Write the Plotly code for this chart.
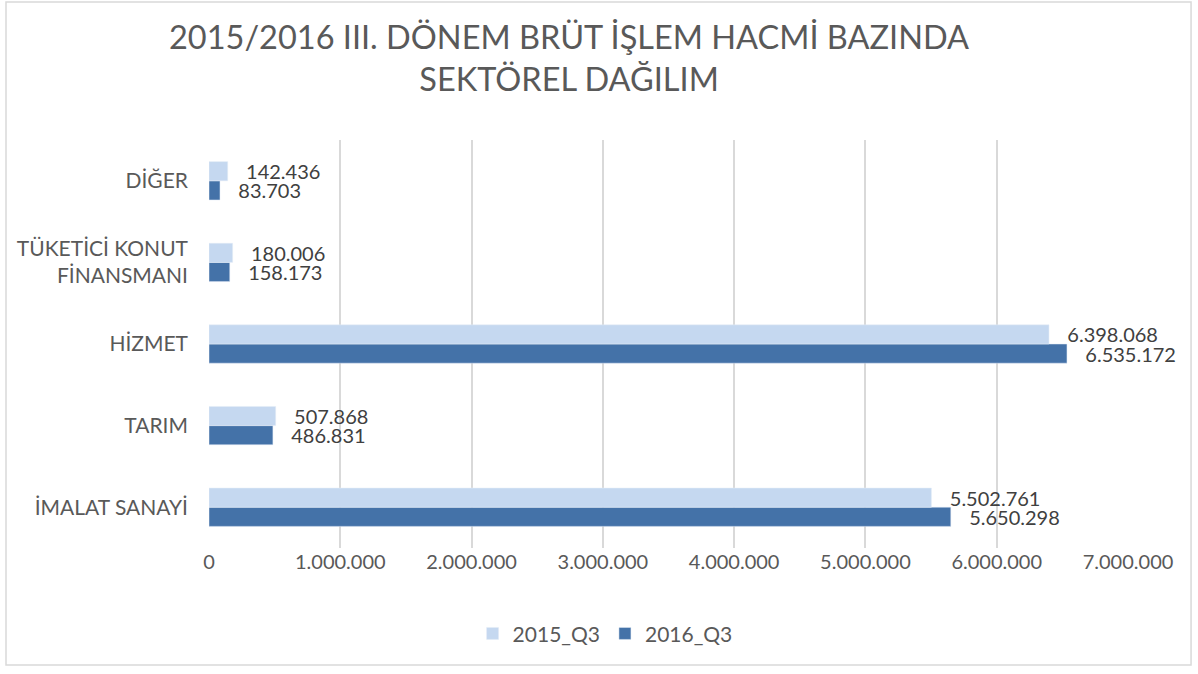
import plotly.graph_objects as go

categories = ["İMALAT SANAYİ", "TARIM", "HİZMET", "TÜKETİCİ KONUT<br>FİNANSMANI", "DİĞER"]
values_2015 = [5502761, 507868, 6398068, 180006, 142436]
values_2016 = [5650298, 486831, 6535172, 158173, 83703]
tick_vals = [0, 1000000, 2000000, 3000000, 4000000, 5000000, 6000000, 7000000]
tick_text = ["0", "1.000.000", "2.000.000", "3.000.000", "4.000.000", "5.000.000", "6.000.000", "7.000.000"]

def fmt(v):
    return "   " + f"{v:,}".replace(",", ".")

FONT = "Lato"

fig = go.Figure()
fig.add_trace(go.Bar(
    y=categories, x=values_2016, orientation="h", name="2016_Q3",
    marker_color="#4472A8", text=[fmt(v) for v in values_2016],
    textposition="outside", cliponaxis=False, constraintext="none",
    textfont=dict(size=20, color="#404040", family=FONT),
))
fig.add_trace(go.Bar(
    y=categories, x=values_2015, orientation="h", name="2015_Q3",
    marker_color="#C5D8F0", text=[fmt(v) for v in values_2015],
    textposition="outside", cliponaxis=False, constraintext="none",
    textfont=dict(size=20, color="#404040", family=FONT),
))

fig.update_layout(
    width=1198, height=674,
    paper_bgcolor="white", plot_bgcolor="white",
    margin=dict(l=209, r=70, t=140, b=126),
    barmode="group", bargap=0.53, bargroupgap=0,
    title=dict(
        text="2015/2016 III. DÖNEM BRÜT İŞLEM HACMİ BAZINDA<br>SEKTÖREL DAĞILIM",
        x=0.475, xanchor="center", y=0.928, yanchor="top",
        font=dict(size=32.5, color="#595959", family=FONT),
    ),
    font=dict(family=FONT, color="#595959"),
    xaxis=dict(
        range=[0, 7000000], tickvals=tick_vals, ticktext=tick_text,
        showgrid=True, gridcolor="#D9D9D9", gridwidth=2,
        zeroline=False, showline=False, ticks="",
        tickfont=dict(size=20, color="#595959", family=FONT),
    ),
    yaxis=dict(
        showgrid=False, zeroline=False, showline=False, ticks="",
        tickfont=dict(size=21, color="#595959", family=FONT),
        ticklabelstandoff=20,
    ),
    legend=dict(
        orientation="h", x=0.431, xanchor="center", y=-0.16, yanchor="top",
        traceorder="reversed",
        font=dict(size=21, color="#595959", family=FONT),
    ),
    shapes=[dict(
        type="rect", xref="paper", yref="paper",
        x0=-0.2209, x1=1.0686, y0=-0.287, y1=1.338,
        line=dict(color="#D9D9D9", width=1.5), fillcolor="rgba(0,0,0,0)",
        layer="below",
    )],
)

fig.write_html("out.html")
